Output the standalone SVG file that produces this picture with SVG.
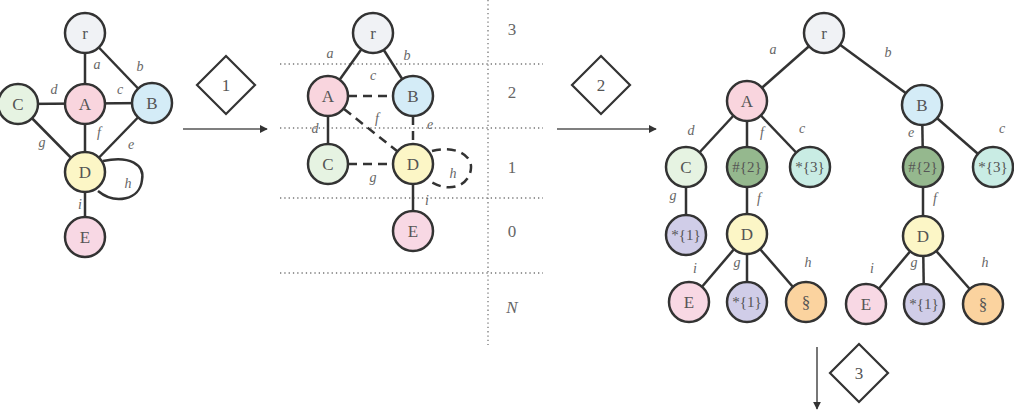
<svg xmlns="http://www.w3.org/2000/svg" width="1014" height="410" viewBox="0 0 1014 410">
<defs>
<style>
.n{stroke:#333;stroke-width:2.5}
.t{font-family:"Liberation Serif","DejaVu Serif",serif;font-size:17px;fill:#555;text-anchor:middle;dominant-baseline:central}
.s{font-size:15px}
.l{font-family:"Liberation Serif","DejaVu Serif",serif;font-style:italic;font-size:14px;fill:#666;text-anchor:middle;dominant-baseline:central}
.e{stroke:#333;stroke-width:2.5;fill:none}
.d{stroke-dasharray:9 6}
.dot{stroke:#777;stroke-width:1.3;stroke-dasharray:1.3 3;fill:none}
.ar{stroke:#555;stroke-width:1.6;fill:none}
.dm{fill:#fff;stroke:#333;stroke-width:2.2}
.lv{font-family:"Liberation Serif","DejaVu Serif",serif;font-size:17px;fill:#666;text-anchor:middle;dominant-baseline:central}
.cr{fill:#f0f2f5}.ca{fill:#f9d5de}.cb{fill:#d4ecf7}.cc{fill:#e6f3e2}.cd{fill:#fcf6c6}.ce{fill:#f8d8e4}
.ch{fill:#95b88e}.cs{fill:#c9ece4}.cl{fill:#d0cde8}.co{fill:#fbd39f}
</style>
<marker id="ah" viewBox="0 0 10 10" refX="9" refY="5" markerWidth="5" markerHeight="5" orient="auto">
<path d="M0,0 L10,5 L0,10 z" fill="#333"/>
</marker>
</defs>

<!-- dotted guides -->
<g id="guides">
<line class="dot" x1="280" y1="64" x2="543" y2="64"/>
<line class="dot" x1="280" y1="128" x2="543" y2="128"/>
<line class="dot" x1="280" y1="198" x2="543" y2="198"/>
<line class="dot" x1="280" y1="273" x2="543" y2="273"/>
<line class="dot" x1="488" y1="0" x2="488" y2="345"/>
<text class="lv" x="512" y="29">3</text>
<text class="lv" x="512" y="92">2</text>
<text class="lv" x="512" y="167">1</text>
<text class="lv" x="512" y="231">0</text>
<text class="lv" x="512" y="307" font-style="italic">N</text>
</g>

<g id="connectors">
<!-- panel 1 -->
<line class="e" x1="85" y1="33" x2="85" y2="104"/>
<line class="e" x1="85" y1="33" x2="152" y2="103"/>
<line class="e" x1="18" y1="104" x2="152" y2="103"/>
<line class="e" x1="85" y1="104" x2="85" y2="237"/>
<line class="e" x1="18" y1="104" x2="85" y2="172"/>
<line class="e" x1="152" y1="103" x2="85" y2="172"/>
<path class="e" d="M103,161 C130,155 145,165 142,180 C140,200 115,205 98,191"/>
<!-- panel 2 -->
<line class="e" x1="373" y1="33" x2="328" y2="96"/>
<line class="e" x1="373" y1="33" x2="413" y2="96"/>
<line class="e d" x1="348" y1="96" x2="393" y2="96"/>
<line class="e d" x1="344" y1="109" x2="397" y2="151"/>
<line class="e d" x1="413" y1="116" x2="413" y2="144"/>
<line class="e" x1="328" y1="96" x2="328" y2="164"/>
<line class="e d" x1="348" y1="164" x2="393" y2="164"/>
<line class="e" x1="413" y1="164" x2="413" y2="231"/>
<path class="e d" d="M432,151 C455,145 472,155 471,168 C470,185 450,195 428,180"/>
<!-- panel 3 -->
<line class="e" x1="824" y1="33" x2="747" y2="101"/>
<line class="e" x1="824" y1="33" x2="922" y2="105"/>
<line class="e" x1="747" y1="101" x2="686" y2="167"/>
<line class="e" x1="747" y1="101" x2="747" y2="167"/>
<line class="e" x1="747" y1="101" x2="810" y2="167"/>
<line class="e" x1="922" y1="105" x2="923" y2="167"/>
<line class="e" x1="922" y1="105" x2="993" y2="167"/>
<line class="e" x1="686" y1="167" x2="686" y2="235"/>
<line class="e" x1="747" y1="167" x2="747" y2="234"/>
<line class="e" x1="923" y1="167" x2="923" y2="236"/>
<line class="e" x1="747" y1="234" x2="689" y2="302"/>
<line class="e" x1="747" y1="234" x2="747" y2="302"/>
<line class="e" x1="747" y1="234" x2="806" y2="302"/>
<line class="e" x1="923" y1="236" x2="866" y2="304"/>
<line class="e" x1="923" y1="236" x2="924" y2="304"/>
<line class="e" x1="923" y1="236" x2="983" y2="304"/>
<!-- step arrows -->
<line class="ar" x1="183" y1="129" x2="267" y2="129" marker-end="url(#ah)"/>
<line class="ar" x1="557" y1="129" x2="656" y2="129" marker-end="url(#ah)"/>
<line class="ar" x1="817" y1="347" x2="817" y2="409" marker-end="url(#ah)"/>
</g>

<g id="edge-labels">
<text class="l" x="97" y="64">a</text>
<text class="l" x="140" y="66">b</text>
<text class="l" x="54" y="89">d</text>
<text class="l" x="120" y="89">c</text>
<text class="l" x="99" y="132">f</text>
<text class="l" x="42" y="142">g</text>
<text class="l" x="131" y="144">e</text>
<text class="l" x="128" y="183">h</text>
<text class="l" x="80" y="204">i</text>

<text class="l" x="330" y="53">a</text>
<text class="l" x="407" y="55">b</text>
<text class="l" x="373" y="75">c</text>
<text class="l" x="377" y="118">f</text>
<text class="l" x="315" y="128">d</text>
<text class="l" x="430" y="124">e</text>
<text class="l" x="373" y="177">g</text>
<text class="l" x="453" y="173">h</text>
<text class="l" x="427" y="200">i</text>

<text class="l" x="773" y="49">a</text>
<text class="l" x="888" y="52">b</text>
<text class="l" x="691" y="130">d</text>
<text class="l" x="762" y="132">f</text>
<text class="l" x="802" y="128">c</text>
<text class="l" x="911" y="132">e</text>
<text class="l" x="1002" y="128">c</text>
<text class="l" x="673" y="195">g</text>
<text class="l" x="759" y="198">f</text>
<text class="l" x="935" y="198">f</text>
<text class="l" x="695" y="268">i</text>
<text class="l" x="737" y="262">g</text>
<text class="l" x="808" y="262">h</text>
<text class="l" x="872" y="268">i</text>
<text class="l" x="914" y="262">g</text>
<text class="l" x="985" y="262">h</text>
</g>

<!-- panel 1 nodes -->
<g id="p1-r"><circle class="n cr" cx="85" cy="33" r="20"/><text class="t" x="85" y="33">r</text></g>
<g id="p1-A"><circle class="n ca" cx="85" cy="104" r="20"/><text class="t" x="85" y="104">A</text></g>
<g id="p1-B"><circle class="n cb" cx="152" cy="103" r="20"/><text class="t" x="152" y="103">B</text></g>
<g id="p1-C"><circle class="n cc" cx="18" cy="104" r="20"/><text class="t" x="18" y="104">C</text></g>
<g id="p1-D"><circle class="n cd" cx="85" cy="172" r="20"/><text class="t" x="85" y="172">D</text></g>
<g id="p1-E"><circle class="n ce" cx="85" cy="237" r="20"/><text class="t" x="85" y="237">E</text></g>

<!-- panel 2 nodes -->
<g id="p2-r"><circle class="n cr" cx="373" cy="33" r="20"/><text class="t" x="373" y="33">r</text></g>
<g id="p2-A"><circle class="n ca" cx="328" cy="96" r="20"/><text class="t" x="328" y="96">A</text></g>
<g id="p2-B"><circle class="n cb" cx="413" cy="96" r="20"/><text class="t" x="413" y="96">B</text></g>
<g id="p2-C"><circle class="n cc" cx="328" cy="164" r="20"/><text class="t" x="328" y="164">C</text></g>
<g id="p2-D"><circle class="n cd" cx="413" cy="164" r="20"/><text class="t" x="413" y="164">D</text></g>
<g id="p2-E"><circle class="n ce" cx="413" cy="231" r="20"/><text class="t" x="413" y="231">E</text></g>

<!-- panel 3 nodes -->
<g id="p3-r"><circle class="n cr" cx="824" cy="33" r="20"/><text class="t" x="824" y="33">r</text></g>
<g id="p3-A"><circle class="n ca" cx="747" cy="101" r="20"/><text class="t" x="747" y="101">A</text></g>
<g id="p3-B"><circle class="n cb" cx="922" cy="105" r="20"/><text class="t" x="922" y="105">B</text></g>
<g id="p3-C"><circle class="n cc" cx="686" cy="167" r="20"/><text class="t" x="686" y="167">C</text></g>
<g id="p3-H1"><circle class="n ch" cx="747" cy="167" r="20"/><text class="t s" x="747" y="167">#{2}</text></g>
<g id="p3-S1"><circle class="n cs" cx="810" cy="167" r="20"/><text class="t s" x="810" y="167">*{3}</text></g>
<g id="p3-H2"><circle class="n ch" cx="923" cy="167" r="20"/><text class="t s" x="923" y="167">#{2}</text></g>
<g id="p3-S2"><circle class="n cs" cx="993" cy="167" r="20"/><text class="t s" x="993" y="167">*{3}</text></g>
<g id="p3-L1"><circle class="n cl" cx="686" cy="235" r="20"/><text class="t s" x="686" y="235">*{1}</text></g>
<g id="p3-D1"><circle class="n cd" cx="747" cy="234" r="20"/><text class="t" x="747" y="234">D</text></g>
<g id="p3-D2"><circle class="n cd" cx="923" cy="236" r="20"/><text class="t" x="923" y="236">D</text></g>
<g id="p3-E1"><circle class="n ce" cx="689" cy="302" r="20"/><text class="t" x="689" y="302">E</text></g>
<g id="p3-L2"><circle class="n cl" cx="747" cy="302" r="20"/><text class="t s" x="747" y="302">*{1}</text></g>
<g id="p3-O1"><circle class="n co" cx="806" cy="302" r="20"/><text class="t" x="806" y="302">§</text></g>
<g id="p3-E2"><circle class="n ce" cx="866" cy="304" r="20"/><text class="t" x="866" y="304">E</text></g>
<g id="p3-L3"><circle class="n cl" cx="924" cy="304" r="20"/><text class="t s" x="924" y="304">*{1}</text></g>
<g id="p3-O2"><circle class="n co" cx="983" cy="304" r="20"/><text class="t" x="983" y="304">§</text></g>

<!-- step diamonds -->
<g id="step1"><path class="dm" d="M226,56 L255,85 L226,114 L197,85 z"/><text class="t" x="226" y="85">1</text></g>
<g id="step2"><path class="dm" d="M601,56 L630,85 L601,114 L572,85 z"/><text class="t" x="601" y="85">2</text></g>
<g id="step3"><path class="dm" d="M859,344 L888,373 L859,402 L830,373 z"/><text class="t" x="859" y="373">3</text></g>
</svg>
